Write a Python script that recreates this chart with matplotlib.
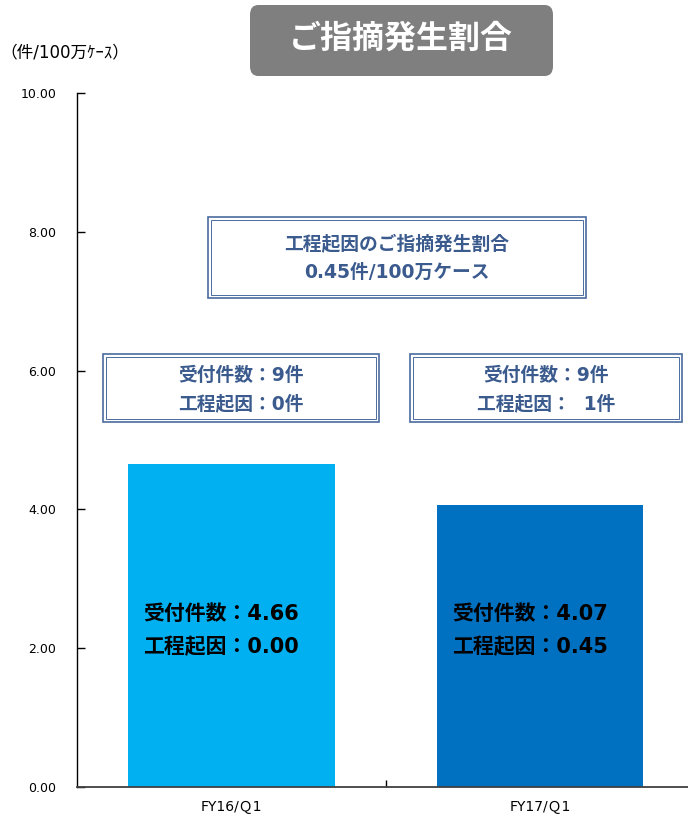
import matplotlib
matplotlib.use("Agg")
import matplotlib.pyplot as plt
from matplotlib.patches import FancyBboxPatch, Rectangle

# Latin glyphs from DejaVu, Japanese from Noto CJK
plt.rcParams['font.family'] = ['DejaVu Sans', 'Noto Sans CJK JP']

quarters = ['FY16/Ｑ1', 'FY17/Ｑ1']
rates = [4.66, 4.07]          # 受付件数 per 100万ケース
process_rates = [0.00, 0.45]  # 工程起因 per 100万ケース
received = [9, 9]
process_cases = [0, 1]
bar_colors = ['#00B0F0', '#0070C0']
yticks = [0, 2, 4, 6, 8, 10]

W, H = 688, 816
fig = plt.figure(figsize=(W / 100, H / 100), dpi=100)


def fx(x):
    return x / W


def fy(y):
    return 1 - y / H


ax = fig.add_axes([fx(77), fy(787), fx(688) - fx(77), fy(93) - fy(787)])
x = range(len(quarters))
ax.bar(x, rates, width=0.67, color=bar_colors)
ax.set_xlim(-0.5, 1.48)
ax.set_ylim(0, 10)
ax.set_yticks(yticks)
ax.set_yticklabels([f'{v:.2f}' for v in yticks], fontsize=9)
ax.set_xticks(list(x))
ax.set_xticklabels(quarters, fontsize=10)
ax.tick_params(axis='x', length=0, pad=9)
ax.tick_params(axis='y', length=6, width=1, direction='in', pad=15)
ax.set_xticks([0.5], minor=True)
ax.tick_params(axis='x', which='minor', length=5, direction='in', width=1)
for side in ('top', 'right'):
    ax.spines[side].set_visible(False)
ax.spines['left'].set_linewidth(1)
ax.spines['bottom'].set_linewidth(1.3)
ax.spines['bottom'].set_color('#404040')

# values written inside each bar
for i, (r, p) in enumerate(zip(rates, process_rates)):
    ax.text(i - 0.285, 2.49, f'受付件数：{r:.2f}', fontsize=15, fontweight='bold',
            color='black', va='center', ha='left')
    ax.text(i - 0.285, 2.02, f'工程起因：{p:.2f}', fontsize=15, fontweight='bold',
            color='black', va='center', ha='left')

# title badge
badge = FancyBboxPatch((fx(250), fy(76)), fx(553) - fx(250), fy(5) - fy(76),
                       boxstyle='round,pad=0,rounding_size=0.012',
                       transform=fig.transFigure, facecolor='#7F7F7F',
                       edgecolor='none')
fig.patches.append(badge)
fig.text(fx(401), fy(39), 'ご指摘発生割合', fontsize=23, fontweight='bold',
         color='white', ha='center', va='center')

fig.text(fx(0), fy(52), '（件/100万ｹｰｽ）', fontsize=12, ha='left', va='center')

box_edge = '#4A6C9E'
box_text = '#3B5B8E'


def double_box(x0, y0, x1, y1):
    outer = Rectangle((fx(x0), fy(y1)), fx(x1) - fx(x0), fy(y0) - fy(y1),
                      transform=fig.transFigure, facecolor='white',
                      edgecolor=box_edge, linewidth=1.2)
    inner = Rectangle((fx(x0 + 3), fy(y1 - 3)), fx(x1 - 3) - fx(x0 + 3),
                      fy(y0 + 3) - fy(y1 - 3), transform=fig.transFigure,
                      facecolor='none', edgecolor=box_edge, linewidth=0.7)
    fig.patches.extend([outer, inner])


double_box(208, 217, 586, 298)
fig.text(fx(397), fy(244), '工程起因のご指摘発生割合', fontsize=13.5,
         fontweight='bold', color=box_text, ha='center', va='center')
fig.text(fx(397), fy(272), f'{process_rates[1]:.2f}件/100万ケース', fontsize=13.5,
         fontweight='bold', color=box_text, ha='center', va='center')

count_boxes = [(103, 354, 379, 422), (410, 354, 682, 422)]
for (x0, y0, x1, y1), n, k in zip(count_boxes, received, process_cases):
    double_box(x0, y0, x1, y1)
    cx = (x0 + x1) / 2
    fig.text(fx(cx), fy(375), f'受付件数：{n}件', fontsize=13.5, fontweight='bold',
             color=box_text, ha='center', va='center')
    pad = '  ' if k else ''
    fig.text(fx(cx), fy(404), f'工程起因：{pad}{k}件', fontsize=13.5,
             fontweight='bold', color=box_text, ha='center', va='center')

fig.savefig('out.png', dpi=100)
